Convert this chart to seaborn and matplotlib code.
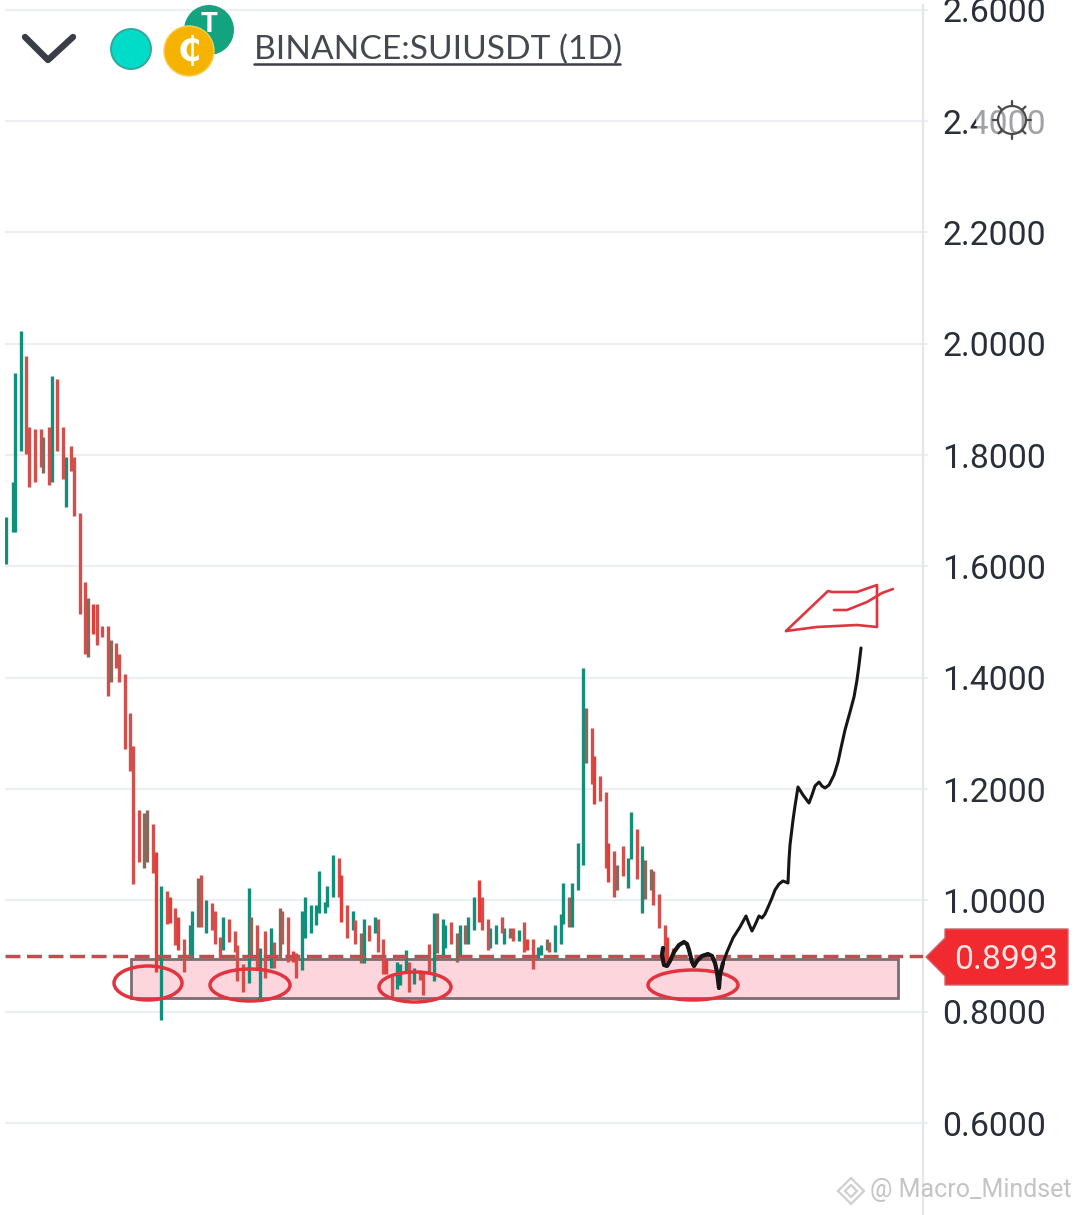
import numpy as np
import pandas as pd
import matplotlib
matplotlib.use("Agg")
import matplotlib.pyplot as plt
from matplotlib.patches import Circle, Ellipse, Polygon, Rectangle
import seaborn as sns

# ==============================
# DATA
# ==============================
price_ticks = [0.6, 0.8, 1.0, 1.2, 1.4, 1.6, 1.8, 2.0, 2.2, 2.4, 2.6]
last_price = 0.8993
zone_low = 0.8254
zone_high = 0.8955
zone_left = 131
zone_right = 898

# candles, each row: position on the time axis, high, low, colour group
bar_x = [
    6.3, 13, 15, 20.7, 26.3, 29, 34.7, 40.7, 43.3, 49,
    51.7, 57.3, 63, 65.7, 71.3, 74, 79.7, 85.3, 88.3, 93.3,
    96.7, 102.3, 107.7, 110.7, 116.3, 119, 124.7, 130.3, 133, 138.7,
    144.3, 147.3, 153, 155.7, 161.3, 167, 170, 175.3, 178.3, 184,
    190, 192.3, 198.3, 200.7, 206.3, 212, 214.7, 220.3, 223, 229,
    234.7, 237.3, 243, 248.7, 251, 257, 259.7, 265.3, 271, 273.7,
    279.7, 282.3, 288, 293.3, 296.3, 302, 305, 310.7, 316.3, 319,
    324.7, 327.3, 333, 338.7, 341.3, 347, 352.7, 355.3, 361, 363.7,
    369.3, 375, 377.7, 383.3, 386, 391.7, 397.3, 400.3, 406, 408.7,
    414.3, 420, 423, 428.7, 434.3, 437, 442.7, 445.3, 451, 457,
    459.7, 465.3, 468, 473.7, 479.3, 482, 487.7, 490.3, 496, 501.7,
    504.3, 510, 513, 518.7, 524.3, 527, 532.7, 538.3, 541, 546.7,
    549.3, 555, 560.7, 563.3, 569.3, 572, 577.7, 583.3, 586, 591.7,
    594.3, 600, 605.7, 608.3, 614, 617, 622.7, 628.3, 631, 636.7,
    642.3, 645, 650.7, 653.3, 659.3, 665, 667.3, 673.3,
]
bar_high = [
    1.689, 1.751, 1.947, 2.023, 1.978, 1.851, 1.847, 1.847, 1.832, 1.851,
    1.942, 1.936, 1.851, 1.797, 1.816, 1.797, 1.695, 1.572, 1.543, 1.533,
    1.533, 1.493, 1.493, 1.467, 1.463, 1.442, 1.406, 1.337, 1.277, 1.163,
    1.157, 1.163, 1.137, 1.087, 1.026, 1.016, 1.007, 0.986, 0.971, 0.931,
    0.956, 0.981, 1.041, 1.046, 1.001, 0.996, 0.981, 0.935, 0.971, 0.966,
    0.945, 0.920, 0.886, 1.022, 0.971, 0.956, 0.915, 0.945, 0.950, 0.925,
    0.986, 0.981, 0.971, 0.909, 0.905, 0.981, 1.006, 0.991, 0.991, 1.052,
    0.997, 1.026, 1.082, 1.077, 1.046, 0.991, 0.981, 0.965, 0.941, 0.966,
    0.956, 0.971, 0.966, 0.931, 0.893, 0.867, 0.889, 0.886, 0.911, 0.890,
    0.879, 0.875, 0.871, 0.922, 0.977, 0.977, 0.967, 0.956, 0.962, 0.941,
    0.956, 0.956, 0.971, 1.007, 1.037, 1.007, 0.966, 0.951, 0.956, 0.971,
    0.951, 0.951, 0.951, 0.946, 0.962, 0.931, 0.931, 0.916, 0.920, 0.931,
    0.926, 0.956, 0.976, 1.031, 1.007, 1.031, 1.103, 1.417, 1.346, 1.310,
    1.259, 1.224, 1.194, 1.103, 1.088, 1.063, 1.098, 1.077, 1.158, 1.128,
    1.098, 1.072, 1.057, 1.052, 1.011, 0.956, 0.935, 0.915,
]
bar_low = [
    1.605, 1.661, 1.661, 1.808, 1.802, 1.742, 1.751, 1.778, 1.767, 1.746,
    1.751, 1.808, 1.757, 1.706, 1.772, 1.691, 1.514, 1.442, 1.438, 1.479,
    1.458, 1.473, 1.367, 1.393, 1.418, 1.393, 1.272, 1.232, 1.029, 1.069,
    1.058, 1.069, 1.049, 0.872, 0.785, 0.957, 0.959, 0.920, 0.911, 0.871,
    0.897, 0.897, 0.953, 0.953, 0.942, 0.947, 0.921, 0.897, 0.911, 0.926,
    0.908, 0.855, 0.836, 0.851, 0.899, 0.878, 0.821, 0.861, 0.878, 0.878,
    0.897, 0.921, 0.890, 0.889, 0.861, 0.875, 0.932, 0.941, 0.956, 0.977,
    0.977, 0.989, 1.007, 1.007, 0.962, 0.932, 0.947, 0.921, 0.887, 0.887,
    0.927, 0.941, 0.907, 0.867, 0.867, 0.823, 0.841, 0.848, 0.870, 0.836,
    0.850, 0.857, 0.830, 0.870, 0.856, 0.905, 0.899, 0.915, 0.921, 0.890,
    0.899, 0.921, 0.921, 0.947, 0.962, 0.947, 0.911, 0.915, 0.921, 0.941,
    0.921, 0.932, 0.927, 0.927, 0.907, 0.911, 0.877, 0.897, 0.902, 0.911,
    0.907, 0.907, 0.921, 0.957, 0.952, 0.952, 1.018, 1.064, 1.246, 1.209,
    1.174, 1.179, 1.058, 1.033, 1.007, 1.018, 1.043, 1.022, 1.074, 1.038,
    0.977, 1.003, 1.018, 0.992, 0.951, 0.890, 0.890, 0.894,
]
# u = teal, d = red, m = mixed brown, h = bright red
bar_side = list(
    "uuuuddddmd"
    "udduddddmh"
    "dddmdddddd"
    "mmdhudhdhd"
    "uumdudddud"
    "dddumdudud"
    "mddhduuuuu"
    "uuudhdudmu"
    "duddhduuud"
    "uddduMuudm".lower()
    + "umuuhdduud"
    "umdudhduum"
    "duuumuuumd"
    "hddhdmduud"
    "ummdddhd"
)

# hand drawn marks, in picture pixels
sketch_x = [663, 662, 664, 667, 670, 674, 679, 684, 687, 689, 692, 694, 697, 702, 708, 712, 715, 717, 719,
            720, 723, 727, 733, 740, 746, 749, 752, 755, 759, 762, 765, 769, 772, 775, 779, 783, 788, 789,
            790, 793, 795, 798, 803, 809, 812, 815, 819, 822, 825, 829, 834, 838, 841, 845, 850, 854, 857,
            859, 861]
sketch_y = [948, 955, 965, 966, 961, 952, 945, 942, 944, 950, 962, 966, 961, 956, 954, 956, 963, 972, 988,
            975, 963, 952, 938, 927, 916, 924, 931, 925, 916, 918, 914, 905, 898, 890, 884, 881, 883, 860,
            845, 820, 806, 787, 795, 803, 795, 786, 782, 786, 788, 785, 775, 762, 748, 730, 712, 697, 680,
            665, 648]
flag_x = [786, 828, 832, 857, 877, 877, 857, 817, 786]
flag_y = [631, 591, 592, 592, 585, 627, 625, 627, 631]
flag_mark_x = [834, 847, 867, 882, 893]
flag_mark_y = [610, 610, 602, 593, 589]
circled_x = [148, 250, 415, 693]
circled_y = [983, 985, 987, 985]
circled_w = [68, 80, 72, 90]
circled_h = [34, 32, 30, 30]

# ==============================
# FIGURE SETUP
# ==============================
sns.set_theme(style="white")
plt.rcParams['font.family'] = ['Roboto', 'DejaVu Sans']

fig = plt.figure(figsize=(10.8, 12.15), dpi=100)
fig.patch.set_facecolor("white")
ax = fig.add_axes([5 / 1080, 0, 918 / 1080, 1210 / 1215])
ax.set_xlim(5, 923)
ax.set_ylim(0.4349, 2.6084)

GRID = "#eceef1"
for name in ["top", "left", "bottom"]:
    ax.spines[name].set_visible(False)
ax.spines["right"].set_color("#e4e6ea")
ax.spines["right"].set_linewidth(1.6)
ax.set_xticks([])
ax.yaxis.tick_right()
ax.set_yticks(price_ticks)
ax.set_yticklabels([f"{t:.4f}" for t in price_ticks])
ax.tick_params(axis="y", length=3.6, width=1.4, color=GRID, pad=10.2, labelsize=24.3, labelcolor="#2a2e39")
ax.grid(axis="y", color=GRID, lw=1.6)
ax.set_axisbelow(True)

# ==============================
# SUPPORT ZONE + CANDLES
# ==============================
ax.add_patch(Rectangle((zone_left, zone_low), zone_right - zone_left, zone_high - zone_low,
                       facecolor="#fdd5dc", edgecolor="#7d6c72", lw=2, zorder=1.5))

candles = pd.DataFrame({"x": bar_x, "high": bar_high, "low": bar_low, "side": bar_side})
candles["bar"] = candles.index
long_df = candles.melt(id_vars=["bar", "x", "side"], value_vars=["high", "low"], value_name="price")
sns.lineplot(data=long_df, x="x", y="price", units="bar", hue="side", estimator=None, ax=ax,
             palette={"u": "#118f7a", "d": "#d44f4b", "m": "#876a5c", "h": "#e93a35"},
             linewidth=2.4, solid_capstyle="butt", legend=False, zorder=2)
ax.set_xlabel("")
ax.set_ylabel("")

ax.axhline(last_price, color="#c44c4c", lw=2.5, linestyle=(0, (4.3, 1.9)), zorder=3)

# ==============================
# OVERLAY IN PICTURE PIXELS
# ==============================
over = fig.add_axes([0, 0, 1, 1], zorder=5)
over.set_xlim(0, 1080)
over.set_ylim(1215, 0)
over.axis("off")

for cx, cy, w, h in zip(circled_x, circled_y, circled_w, circled_h):
    over.add_patch(Ellipse((cx, cy), w, h, fill=False, edgecolor="#e2343e", lw=2.5))

over.plot(sketch_x, sketch_y, color="#161616", lw=2.2, solid_joinstyle="round")
over.plot(sketch_x[:21], sketch_y[:21], color="#161616", lw=3.0, solid_joinstyle="round", solid_capstyle="round")
over.plot(flag_x, flag_y, color="#e2343e", lw=1.9)
over.plot(flag_mark_x, flag_mark_y, color="#e2343e", lw=1.9)

# last price tag
over.add_patch(Polygon([(926, 957), (945, 938), (945, 929), (1068, 929), (1068, 985), (945, 985), (945, 976)],
                       facecolor="#f02a2e", edgecolor="#c9666a", lw=1))
over.text(1006, 960, f"{last_price:.4f}", color="#fde4e4", fontsize=24.3, ha="center", va="center")

# settings icon over the 2.4000 label
over.add_patch(Circle((1012, 120), 36, facecolor="white", edgecolor="none", alpha=0.56))
over.add_patch(Circle((1012, 120), 14, fill=False, edgecolor="#4a4a4a", lw=1.6))
for ang in np.arange(0, 360, 45):
    ca, sa = np.cos(np.radians(ang)), np.sin(np.radians(ang))
    over.plot([1012 + 14 * ca, 1012 + 19 * ca], [120 + 14 * sa, 120 + 19 * sa], color="#4a4a4a", lw=1.6)

# header
over.plot([25, 48, 73], [37, 60, 37], color="#3b3d46", lw=4.6, solid_capstyle="round", solid_joinstyle="round")
over.add_patch(Circle((131, 49), 20, facecolor="#00dcc8", edgecolor="#35a89c", lw=1.4))
over.add_patch(Circle((209, 30), 25, facecolor="#14a37f", edgecolor="none"))
over.text(209, 24, "T", color="white", fontsize=20, fontweight="bold", ha="center", va="center")
over.add_patch(Circle((189, 51), 25, facecolor="#f5b300", edgecolor="#f9cf55", lw=1))
over.text(189, 52, "₵", color="white", fontsize=24, fontweight="bold", ha="center", va="center",
          family="DejaVu Sans")
over.text(254, 50, "BINANCE:SUIUSDT (1D)", color="#45484f", fontsize=24.1, ha="left", va="center",
          family="Lato")
over.plot([254, 620], [64, 64], color="#3c3f47", lw=1.8)

# watermark
over.add_patch(Polygon([(851, 1178), (864, 1191), (851, 1204), (838, 1191)], fill=False, edgecolor="#cfcfcf", lw=1.6))
over.add_patch(Polygon([(851, 1185), (857, 1191), (851, 1197), (845, 1191)], fill=False, edgecolor="#cfcfcf", lw=1.6))
over.text(870, 1190, "@ Macro_Mindset", color="#c4c4c4", fontsize=18, ha="left", va="center")

fig.savefig("out.png", dpi=100)
print("Saved out.png", len(bar_x), len(bar_high), len(bar_low), len(bar_side))
